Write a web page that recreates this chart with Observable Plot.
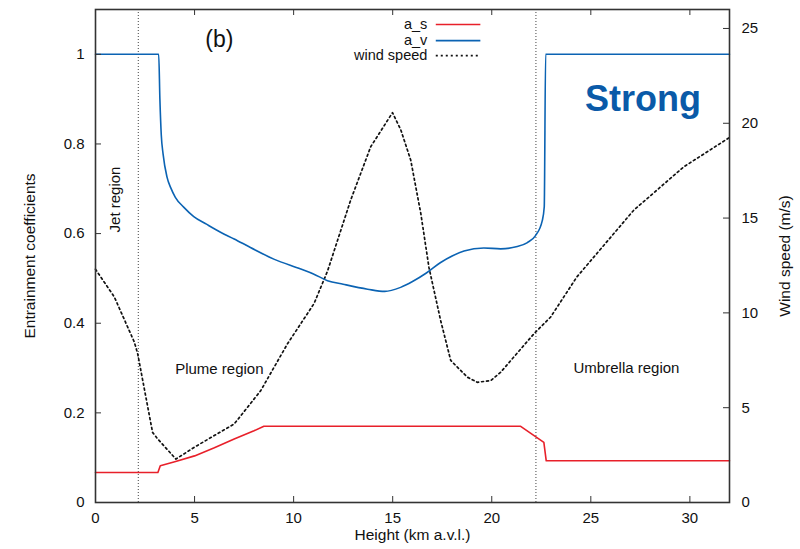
<!DOCTYPE html>
<html><head><meta charset="utf-8">
<script src="https://cdn.jsdelivr.net/npm/d3@7"></script>
<script src="https://cdn.jsdelivr.net/npm/@observablehq/plot@0.6"></script>
<style>body{margin:0;background:#fff}</style>
</head><body><div id="chart"></div>
<script>
// ---- data ----
const windX = [0, 0.95, 1.96, 2.13, 2.88, 3.14, 4.06, 4.98, 7.0, 8.34, 9.69, 11.03, 11.71, 12.88, 13.89, 14.99, 15.41, 15.91, 16.42, 16.83, 17.42, 17.93, 18.77, 19.27, 19.95, 20.45, 22.13, 22.97, 24.3, 27.17, 29.69, 32];
const windV = [12.3, 10.84, 8.46, 7.84, 3.7, 3.35, 2.29, 2.91, 4.14, 5.9, 8.37, 10.49, 12.2, 15.95, 18.76, 20.56, 19.65, 18.06, 15.24, 12.4, 9.6, 7.49, 6.61, 6.34, 6.43, 6.87, 8.9, 9.78, 11.9, 15.42, 17.7, 19.25];

const avX = [0, 3.19, 3.25, 3.32, 3.41, 3.61, 3.8, 4.03, 4.45, 4.96, 5.6, 6.31, 7.0, 7.82, 9.0, 10.36, 11.0, 11.71, 12.5, 13.73, 14.6, 15.4, 16.0, 16.7, 17.4, 18.0, 18.6, 19.6, 20.45, 21.29, 21.8, 22.2, 22.55, 22.65, 22.72, 32];
const avV = [1, 1, 0.9, 0.82, 0.778, 0.726, 0.702, 0.681, 0.659, 0.638, 0.621, 0.603, 0.588, 0.569, 0.543, 0.521, 0.51, 0.495, 0.487, 0.476, 0.471, 0.48, 0.493, 0.512, 0.535, 0.55, 0.561, 0.568, 0.566, 0.571, 0.58, 0.595, 0.629, 0.66, 1.0, 1.0];

const asX = [0, 3.15, 3.27, 4.0, 5.0, 6.0, 7.0, 8.0, 8.5, 21.46, 22.63, 22.75, 32];
const asV = [0.067, 0.067, 0.082, 0.091, 0.104, 0.122, 0.1415, 0.16, 0.17, 0.17, 0.134, 0.093, 0.093];

const regionBounds = [2.16, 22.23];
const xTicks = [0, 5, 10, 15, 20, 25, 30];
const yTicks = [0, 0.2, 0.4, 0.6, 0.8, 1];
const windTicks = [0, 5, 10, 15, 20, 25];
const legendLabels = ["a_s", "a_v", "wind speed"];

// ---- layout ----
const W = 800, H = 549, mL = 95, mR = 71, mT = 9, mB = 47;
const innerH = H - mT - mB, innerW = W - mL - mR;
const yMax = 1.1, wMax = 26;
const toY = w => w * yMax / wMax;
const RED = "#e8202a", BLUE = "#0b63b3", STRONG = "#0a5aa8";
const FONT = "'Liberation Sans', Arial, Helvetica, sans-serif";

const wind = windX.map((x, i) => ({x, w: windV[i]}));
const av = avX.map((x, i) => ({x, v: avV[i]}));
const as = asX.map((x, i) => ({x, v: asV[i]}));

const chart = Plot.plot({
  width: W, height: H,
  marginLeft: mL, marginRight: mR, marginTop: mT, marginBottom: mB,
  style: {fontFamily: FONT, fontSize: "15px", background: "white", color: "#111"},
  x: {domain: [0, 32]},
  y: {domain: [0, yMax]},
  marks: [
    Plot.ruleX(regionBounds, {x: d => d, stroke: "#444", strokeWidth: 1, strokeDasharray: "1,2"}),
    Plot.line(wind, {x: "x", y: d => toY(d.w), stroke: "#111", strokeWidth: 1.7, strokeDasharray: "2,3"}),
    Plot.line(as, {x: "x", y: "v", stroke: RED, strokeWidth: 1.6}),
    Plot.line(av, {x: "x", y: "v", stroke: BLUE, strokeWidth: 1.6, curve: "monotone-x"}),
    // inward ticks
    Plot.ruleX(xTicks, {x: d => d, insetTop: innerH - 6, stroke: "#333"}),
    Plot.ruleX(xTicks, {x: d => d, insetBottom: innerH - 6, stroke: "#333"}),
    Plot.ruleY(yTicks, {y: d => d, insetRight: innerW - 6, stroke: "#333"}),
    Plot.ruleY(windTicks, {y: d => toY(d), insetLeft: innerW - 6, stroke: "#333"}),
    Plot.frame({stroke: "#333", strokeWidth: 1.6}),
    // tick labels
    Plot.axisX(xTicks, {tickSize: 0, tickPadding: 10, label: null, fontSize: 15}),
    Plot.axisY(yTicks, {tickSize: 0, tickPadding: 11, label: null, fontSize: 15, tickFormat: d => String(d)}),
    Plot.axisY(windTicks.map(toY), {anchor: "right", tickSize: 0, tickPadding: 12, label: null, fontSize: 15,
      tickFormat: d => String(Math.round(d * wMax / yMax))}),
    // axis titles
    Plot.text(["Height (km a.v.l.)"], {frameAnchor: "bottom", textAnchor: "middle", dy: 37, fontSize: 15.5}),
    Plot.text(["Entrainment coefficients"], {frameAnchor: "left", textAnchor: "middle", dx: -65, rotate: -90, fontSize: 15.5}),
    Plot.text(["Wind speed (m/s)"], {frameAnchor: "right", textAnchor: "middle", dx: 56, rotate: -90, fontSize: 15.5}),
    // annotations
    Plot.text(["(b)"], {x: 6.25, y: 1.033, fontSize: 23}),
    Plot.text(["Strong"], {x: 27.63, y: 0.9, fontSize: 36, fontWeight: "bold", fill: STRONG}),
    Plot.text(["Jet region"], {x: 1.0, y: 0.676, rotate: -90, fontSize: 15}),
    Plot.text(["Plume region"], {x: 6.25, y: 0.298, fontSize: 15}),
    Plot.text(["Umbrella region"], {x: 26.8, y: 0.299, fontSize: 15}),
    // legend
    Plot.text(legendLabels, {x: 16.75, y: (d, i) => [1.0665, 1.0306, 0.997][i], textAnchor: "end", fontSize: 14.5}),
    Plot.ruleY([1.0665], {x1: 17.2, x2: 19.45, stroke: RED, strokeWidth: 1.6}),
    Plot.ruleY([1.0306], {x1: 17.2, x2: 19.45, stroke: BLUE, strokeWidth: 1.6}),
    Plot.ruleY([0.997], {x1: 17.2, x2: 19.45, stroke: "#111", strokeWidth: 1.7, strokeDasharray: "2,3"})
  ]
});
document.getElementById("chart").appendChild(chart);
</script>
</body></html>
